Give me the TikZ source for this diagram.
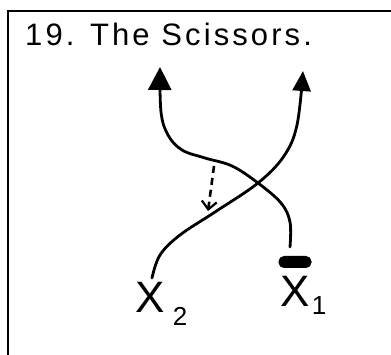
\documentclass[tikz,border=0pt]{standalone}
\usepackage{fontspec}
\setmainfont{Liberation Sans}
\newfontfamily\titlefont[LetterSpace=10]{Liberation Sans}
\usetikzlibrary{arrows.meta}
\begin{document}
\begin{tikzpicture}[x=1pt,y=-1pt,
  frame/.style={line width=2.5pt},
  strand/.style={line width=2.8pt, line cap=round},
  bigtip/.style={-{Triangle[length=23pt,width=23pt]}},
  smalltip/.style={-{Triangle[length=20pt,width=18pt]}},
  dasharrow/.style={line width=2.6pt, dash pattern=on 7pt off 5pt, -{Straight Barb[length=8pt,width=15pt,line width=2.2pt]}},
  letter/.style={font=\fontsize{44}{44}\selectfont, inner sep=0pt},
  sub/.style={font=\fontsize{26}{26}\selectfont, inner sep=0pt}]
\useasboundingbox (0,0) rectangle (391,355);
\fill[white] (0,0) rectangle (391,355);
\draw[frame] (8,356) -- (8,11) -- (392,11);

\node[anchor=base west, inner sep=0pt, font=\titlefont\fontsize{31}{31}\selectfont] (title) at (25,46) {19. The Scissors.};

% strand ends
\node[letter] (x2) at (150,297) {X};
\node[sub] (s2) at (180,316) {2};
\node[letter] (x1) at (295,291) {X};
\node[sub] (s1) at (319,306) {1};
\node[fill=black, rounded corners=5.5pt, minimum width=33pt, minimum height=12pt, inner sep=0pt] (blob) at (295,262) {};

\coordinate (a2) at (152,278);
\coordinate (a1) at (290,247);
\coordinate (cross) at (258,183);
\coordinate (tipL) at (160,67);
\coordinate (tipR) at (303,71);

% strand from X1 to the left arrow
\draw[strand, bigtip] plot[smooth, tension=0.6] coordinates {(a1) (290,222) (281,203) (cross) (232,166) (205,158) (182,150) (168,135) (161,112) (tipL)};
% strand from X2 to the right arrow
\draw[strand, smalltip] plot[smooth, tension=0.6] coordinates {(a2) (160,255) (180,235) (215,212) (cross) (284,156) (297,125) (tipR)};

\coordinate (d1) at (214,166);
\coordinate (d2) at (208,211);
\draw[dasharrow] (d1) -- (d2);
\end{tikzpicture}
\end{document}
